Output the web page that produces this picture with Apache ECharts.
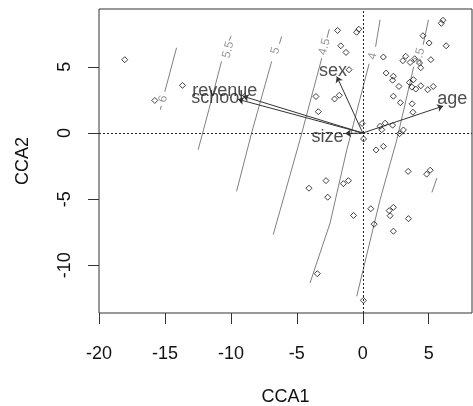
<!DOCTYPE html>
<html>
<head>
<meta charset="utf-8">
<script src="https://cdn.jsdelivr.net/npm/echarts@6/dist/echarts.min.js"></script>
<style>
  html, body { margin: 0; padding: 0; background: #fff; }
  #chart { width: 473px; height: 406px; }
</style>
</head>
<body>
<div id="chart"></div>
<script>
// Site scores on the first two constrained axes
const sites = [
  [-18.05, 5.54], [-15.77, 2.46], [-13.67, 3.60],
  [-1.91, 7.75], [-0.47, 7.61], [-0.30, 7.84], [-1.67, 6.59], [-1.27, 6.09],
  [-1.04, 4.78], [-3.55, 2.76], [-2.14, 2.57], [-1.78, 2.85], [1.56, 5.74],
  [1.77, 4.53], [2.32, 4.29], [2.26, 3.99], [2.74, 3.52], [2.32, 2.78],
  [2.85, 2.29], [-3.37, 1.61], [3.74, 2.21], [3.80, 1.57], [-0.05, 0.72],
  [1.31, 0.51], [1.69, 0.74], [2.26, 0.59], [1.44, 0.25], [2.79, -0.05],
  [3.08, 0.23], [0.06, -0.45], [1.01, -1.28], [1.56, -1.01], [5.95, 8.29],
  [6.08, 8.52], [4.56, 7.35], [5.03, 6.80], [6.32, 6.59], [3.25, 5.80],
  [3.04, 5.46], [3.59, 5.33], [3.93, 5.61], [4.30, 5.29], [4.39, 4.93],
  [5.16, 5.54], [3.54, 3.82], [3.84, 4.03], [3.72, 3.47], [4.02, 3.32],
  [4.40, 3.57], [4.92, 3.27], [5.34, 3.52], [-2.79, -3.60], [-4.08, -4.17],
  [-1.47, -3.83], [-1.09, -3.60], [-2.66, -4.85], [3.44, -2.90], [4.84, -3.11],
  [5.11, -2.81], [-0.70, -6.23], [0.61, -5.72], [2.00, -5.87], [2.32, -5.62],
  [2.07, -6.25], [3.46, -6.47], [0.86, -6.89], [2.32, -7.42], [-3.45, -10.63],
  [0.05, -12.64]
];

// Environmental variables: arrow tips and label anchors
const envNames = ['age', 'sex', 'size', 'revenue', 'school'];
const envTips = [[6.10, 2.04], [-1.97, 4.27], [-1.34, -0.04], [-9.09, 2.78], [-9.47, 2.55]];
const envLabelPos = [[6.78, 2.60], [-2.26, 4.72], [-2.67, -0.30], [-10.46, 3.15], [-11.03, 2.66]];

// Fitted surface contours (each level split where its label sits)
const contourLevels = ['6', '5.5', '5', '4.5', '4', '3.5'];
const contour6 = [[[-14.12, 6.44], [-15.01, 3.12]], [[-15.28, 2.06], [-15.35, 1.76]]];
const contour55 = [[[-9.98, 7.35], [-10.13, 6.97]], [[-10.71, 5.41], [-11.67, 1.76], [-12.48, -1.26]]];
const contour5 = [[[-6.15, 7.30], [-6.32, 6.74]], [[-6.91, 5.41], [-8.43, 0.0], [-9.57, -4.41]]];
const contour45 = [[[-2.54, 7.85], [-2.71, 7.20]], [[-3.11, 5.66], [-4.76, -0.51], [-6.79, -7.68]]];
const contour4 = [[[1.31, 8.56], [0.97, 6.52]], [[0.48, 5.23], [-1.21, -1.26], [-2.48, -6.80], [-4.00, -11.33]]];
const contour35 = [[[4.98, 8.56], [4.58, 6.67]], [[3.86, 5.01], [2.58, -0.51], [1.31, -5.04], [-0.46, -12.34]]];
const contour3 = [[[5.62, -3.40], [5.24, -4.49]]];
const contourLabelPos = [[-15.14, 2.57], [-10.21, 6.29], [-6.62, 6.22], [-2.90, 6.52], [0.74, 5.80], [4.27, 5.80]];

// Axis ticks
const xTicks = [-20, -15, -10, -5, 0, 5];
const yTicks = [-10, -5, 0, 5];

const FONT = '"Liberation Sans", Arial, sans-serif';
const contourColor = '#808080';

const contourSeries = [];
[contour6, contour55, contour5, contour45, contour4, contour35, contour3].forEach(function (segs) {
  segs.forEach(function (seg) {
    contourSeries.push({
      type: 'line',
      data: seg,
      showSymbol: false,
      symbol: 'none',
      silent: true,
      z: 1,
      lineStyle: { color: contourColor, width: 1 }
    });
  });
});

const chart = echarts.init(document.getElementById('chart'), null, { renderer: 'canvas' });
chart.setOption({
  animation: false,
  backgroundColor: '#fff',
  grid: {
    left: 99, right: 1, top: 9, bottom: 93,
    containLabel: false,
    outerBoundsMode: 'none',
    show: true, borderColor: '#333', borderWidth: 1, backgroundColor: 'transparent'
  },
  xAxis: {
    type: 'value',
    min: -20, max: 8.28,
    name: 'CCA1', nameLocation: 'middle', nameGap: 75,
    nameTextStyle: { fontFamily: FONT, fontSize: 18, color: '#111' },
    splitLine: { show: false },
    axisLine: { show: false, onZero: false },
    axisTick: { show: true, inside: false, length: 11, customValues: xTicks, lineStyle: { color: '#333' } },
    axisLabel: { customValues: xTicks, margin: 32, fontFamily: FONT, fontSize: 18, color: '#111' }
  },
  yAxis: {
    type: 'value',
    min: -13.6, max: 9.37,
    name: 'CCA2', nameLocation: 'middle', nameGap: 67, nameRotate: 90,
    nameTextStyle: { fontFamily: FONT, fontSize: 18, color: '#111' },
    splitLine: { show: false },
    axisLine: { show: false, onZero: false },
    axisTick: { show: true, inside: false, length: 11, customValues: yTicks, lineStyle: { color: '#333' } },
    axisLabel: { customValues: yTicks, rotate: 90, margin: 25, fontFamily: FONT, fontSize: 18, color: '#111' }
  },
  series: contourSeries.concat([
    {
      type: 'scatter',
      data: contourLabelPos.map(function (p, i) {
        return { value: p, name: contourLevels[i] };
      }),
      symbolSize: 0,
      silent: true,
      z: 2,
      label: {
        show: true, position: 'inside', formatter: '{b}', rotate: 75,
        fontFamily: FONT, fontSize: 12, color: contourColor
      }
    },
    {
      type: 'scatter',
      data: sites,
      symbol: 'diamond',
      symbolSize: 6,
      z: 3,
      itemStyle: { color: 'rgba(255,255,255,0)', borderColor: '#111', borderWidth: 1 },
      markLine: {
        silent: true,
        symbol: 'none',
        label: { show: false },
        lineStyle: { type: [2, 2], color: '#222', width: 1 },
        data: [{ xAxis: 0 }, { yAxis: 0 }]
      }
    },
    {
      type: 'lines',
      coordinateSystem: 'cartesian2d',
      silent: true,
      z: 4,
      symbol: ['none', 'arrow'],
      symbolSize: 6,
      lineStyle: { color: '#333', width: 1, opacity: 1 },
      data: envTips.map(function (t) { return { coords: [[0, 0], t] }; })
    },
    {
      type: 'scatter',
      data: envLabelPos.map(function (p, i) { return { value: p, name: envNames[i] }; }),
      symbolSize: 0,
      silent: true,
      z: 5,
      label: {
        show: true, position: 'inside', formatter: '{b}',
        fontFamily: FONT, fontSize: 18, color: '#222'
      }
    }
  ])
});
</script>
</body>
</html>
